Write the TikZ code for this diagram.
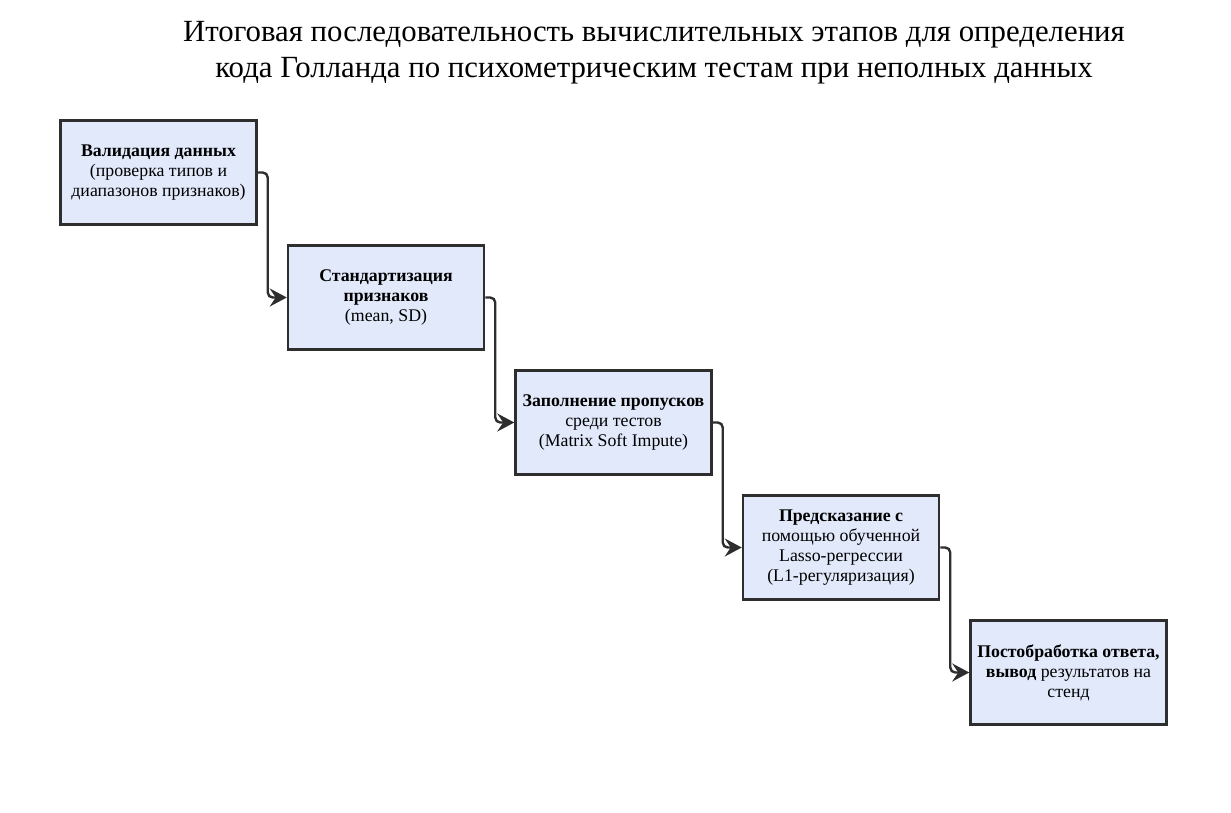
\documentclass[tikz,border=0pt]{standalone}
\usepackage{fontspec}
\setmainfont{Liberation Serif}
\usepackage{xcolor}
\definecolor{stageFill}{HTML}{E1E9FB}
\definecolor{stageLine}{HTML}{2E2E2E}
\usetikzlibrary{arrows.meta, positioning}

\begin{document}
\begin{tikzpicture}[
		node distance=18.5pt and 29pt,
		stage/.style={
			draw=stageLine,
			fill=stageFill,
			line width=2.5pt,
			minimum width=196pt,
			minimum height=104pt,
			align=center,
			inner sep=2pt,
			font=\fontsize{17.8}{20}\selectfont,
			execute at begin node={\rule{0pt}{19pt}}
		},
		arrow/.style={-{Stealth[length=17pt,width=18pt,inset=6pt]}, line width=2.4pt, draw=stageLine, rounded corners=5pt}
		]
		
		\useasboundingbox (0,0) rectangle (1231pt,-812pt);
		
		\node[align=center, font=\fontsize{30.8}{36}\selectfont] (title) at (654pt,-53pt)
			{Итоговая последовательность вычислительных этапов для определения\\
			 кода Голланда по психометрическим тестам при неполных данных};
		
		\node[stage] (valid) at (158.5pt,-172.5pt) {\textbf{Валидация данных}\\(проверка типов и\\диапазонов признаков)};
		\node[stage, below right=of valid.south east, anchor=north west] (std) {\textbf{Стандартизация}\\\textbf{признаков}\\(mean, SD)};
		\node[stage, below right=of std.south east, anchor=north west] (impute) {\textbf{Заполнение пропусков}\\среди тестов\\(Matrix Soft Impute)};
		\node[stage, below right=of impute.south east, anchor=north west] (lasso) {\textbf{Предсказание с}\\помощью обученной\\Lasso-регрессии\\(L1-регуляризация)};
		\node[stage, below right=of lasso.south east, anchor=north west] (post) {\textbf{Постобработка ответа,}\\\textbf{вывод} результатов на\\стенд};
		
		\draw[arrow] (valid.east) -- ++(10pt,0) |- (std.west);
		\draw[arrow] (std.east) -- ++(10pt,0) |- (impute.west);
		\draw[arrow] (impute.east) -- ++(10pt,0) |- (lasso.west);
		\draw[arrow] (lasso.east) -- ++(10pt,0) |- (post.west);
		
	\end{tikzpicture}
\end{document}
